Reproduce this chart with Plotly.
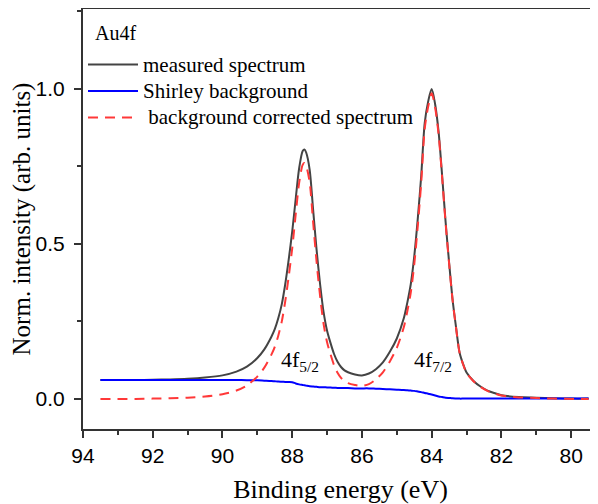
import plotly.graph_objects as go

# Binding energy grid (eV)
energy = [93.5, 93.0, 92.5, 92.0, 91.5, 91.0, 90.5, 90.0, 89.6, 89.3, 89.0, 88.8, 88.6, 88.5, 88.4, 88.3,
          88.2, 88.1, 88.0, 87.9, 87.8, 87.7, 87.65, 87.6, 87.5, 87.4, 87.3, 87.2, 87.1, 87.0, 86.9, 86.8,
          86.7, 86.6, 86.5, 86.4, 86.2, 86.0, 85.8, 85.6, 85.4, 85.2, 85.0, 84.8, 84.7, 84.6, 84.5, 84.4, 84.3,
          84.2, 84.1, 84.0, 83.9, 83.8, 83.7, 83.6, 83.5, 83.4, 83.3, 83.2, 83.1, 83.0, 82.8, 82.6,
          82.4, 82.2, 82.0, 81.5, 81.0, 80.5, 80.0, 79.5]

measured = [0.061, 0.061, 0.061, 0.062, 0.063, 0.065, 0.069, 0.076, 0.088, 0.104, 0.132, 0.160, 0.200, 0.225, 0.260, 0.305,
            0.370, 0.450, 0.540, 0.645, 0.745, 0.800, 0.805, 0.795, 0.740, 0.610, 0.480, 0.370, 0.280, 0.220, 0.180, 0.145,
            0.120, 0.103, 0.092, 0.086, 0.079, 0.076, 0.082, 0.096, 0.118, 0.152, 0.195, 0.260, 0.310, 0.370, 0.460, 0.580, 0.720,
            0.890, 0.960, 1.000, 0.950, 0.860, 0.720, 0.570, 0.440, 0.320, 0.230, 0.150, 0.113, 0.085, 0.058, 0.040,
            0.027, 0.019, 0.012, 0.006, 0.004, 0.002, 0.001, 0.001]

shirley = [0.061, 0.061, 0.061, 0.061, 0.061, 0.061, 0.061, 0.061, 0.061, 0.0605, 0.060, 0.059, 0.058, 0.057, 0.056, 0.0555,
           0.055, 0.0545, 0.054, 0.050, 0.047, 0.045, 0.044, 0.043, 0.041, 0.040, 0.039, 0.038, 0.038, 0.037, 0.0365, 0.036,
           0.0355, 0.035, 0.035, 0.035, 0.034, 0.034, 0.034, 0.033, 0.032, 0.031, 0.030, 0.029, 0.028, 0.027, 0.026, 0.024, 0.022,
           0.019, 0.017, 0.014, 0.011, 0.008, 0.006, 0.004, 0.003, 0.002, 0.0015, 0.001, 0.001, 0.001, 0.001, 0.001,
           0.001, 0.001, 0.001, 0.001, 0.001, 0.001, 0.001, 0.001]

corrected = [0.000, 0.000, 0.000, 0.001, 0.002, 0.004, 0.008, 0.015, 0.027, 0.0435, 0.072, 0.101, 0.142, 0.168, 0.204, 0.2495,
             0.315, 0.3955, 0.486, 0.595, 0.698, 0.755, 0.761, 0.752, 0.699, 0.570, 0.441, 0.332, 0.242, 0.183, 0.1435, 0.109,
             0.0845, 0.068, 0.057, 0.051, 0.045, 0.042, 0.048, 0.063, 0.086, 0.121, 0.165, 0.231, 0.282, 0.343, 0.434, 0.556, 0.698,
             0.871, 0.943, 0.986, 0.939, 0.852, 0.714, 0.566, 0.437, 0.318, 0.2285, 0.149, 0.112, 0.084, 0.057, 0.039,
             0.026, 0.018, 0.011, 0.005, 0.003, 0.001, 0.000, 0.000]

x_ticks = [94, 92, 90, 88, 86, 84, 82, 80]
y_ticks = [0.0, 0.5, 1.0]
y_tick_labels = ["0.0", "0.5", "1.0"]
names = ["measured spectrum", "Shirley background", " background corrected spectrum"]
panel_label = "Au4f"
peak_labels = ["4f<sub>5/2</sub>", "4f<sub>7/2</sub>"]
peak_pos = [(87.77, 0.123), (83.96, 0.123)]

serif = "Liberation Serif, Times New Roman, serif"
sans = "Liberation Sans, Arial, sans-serif"


def big(t):
    return '<span style="font-size:21px">' + t.replace(" ", "\u00a0") + "</span>"


fig = go.Figure()
fig.add_trace(go.Scatter(x=energy, y=measured, mode="lines", name=big(names[0]),
                         line=dict(color="#444444", width=2, shape="spline", smoothing=0.8)))
fig.add_trace(go.Scatter(x=energy, y=shirley, mode="lines", name=big(names[1]),
                         line=dict(color="#0000ff", width=2, shape="spline", smoothing=0.8)))
fig.add_trace(go.Scatter(x=energy, y=corrected, mode="lines", name=big(names[2]),
                         line=dict(color="#ff3838", width=2, dash="10px,7px", shape="spline", smoothing=0.8)))

for (px, py), txt in zip(peak_pos, peak_labels):
    fig.add_annotation(x=px, y=py, text=txt, showarrow=False, xref="x", yref="y",
                       font=dict(family=serif, size=22, color="black"))

fig.add_annotation(x=0, y=1, xref="paper", yref="paper", text=panel_label, showarrow=False,
                   xanchor="left", yanchor="middle", xshift=10, yshift=-24,
                   font=dict(family=serif, size=20, color="black"))

fig.update_layout(
    width=590, height=496,
    margin=dict(l=75, r=0, t=1, b=75),
    paper_bgcolor="white", plot_bgcolor="white",
    showlegend=True,
    legend=dict(x=0, y=0.911, xanchor="left", yanchor="top", xref="paper", yref="paper",
                bgcolor="rgba(0,0,0,0)", borderwidth=0,
                font=dict(family=serif, size=18, color="black"),
                itemwidth=50, tracegroupgap=0),
    xaxis=dict(range=[94, 79.23], tickvals=x_ticks, ticks="outside", ticklen=7, tickwidth=1.5,
               tickcolor="#333", showline=True, linecolor="#333", linewidth=2, mirror=True,
               showgrid=False, zeroline=False, automargin=False,
               tickfont=dict(family=sans, size=21, color="black"),
               minor=dict(dtick=1, ticks="outside", ticklen=4, tickwidth=1.5, tickcolor="#333", showgrid=False),
               title=dict(text="Binding energy (eV)", font=dict(family=serif, size=26, color="black"), standoff=17)),
    yaxis=dict(range=[-0.097, 1.258], tickvals=y_ticks, ticktext=y_tick_labels, ticks="outside", ticklen=7,
               tickwidth=1.5, tickcolor="#333", showline=True, linecolor="#333", linewidth=2, mirror=False,
               showgrid=False, zeroline=False, automargin=False, ticklabelstandoff=5,
               tickfont=dict(family=sans, size=21, color="black"),
               minor=dict(dtick=0.25, ticks="outside", ticklen=4, tickwidth=1.5, tickcolor="#333", showgrid=False),
               title=dict(text="Norm. intensity (arb. units)", font=dict(family=serif, size=25, color="black"), standoff=0)),
)

fig.write_html("out.html")
